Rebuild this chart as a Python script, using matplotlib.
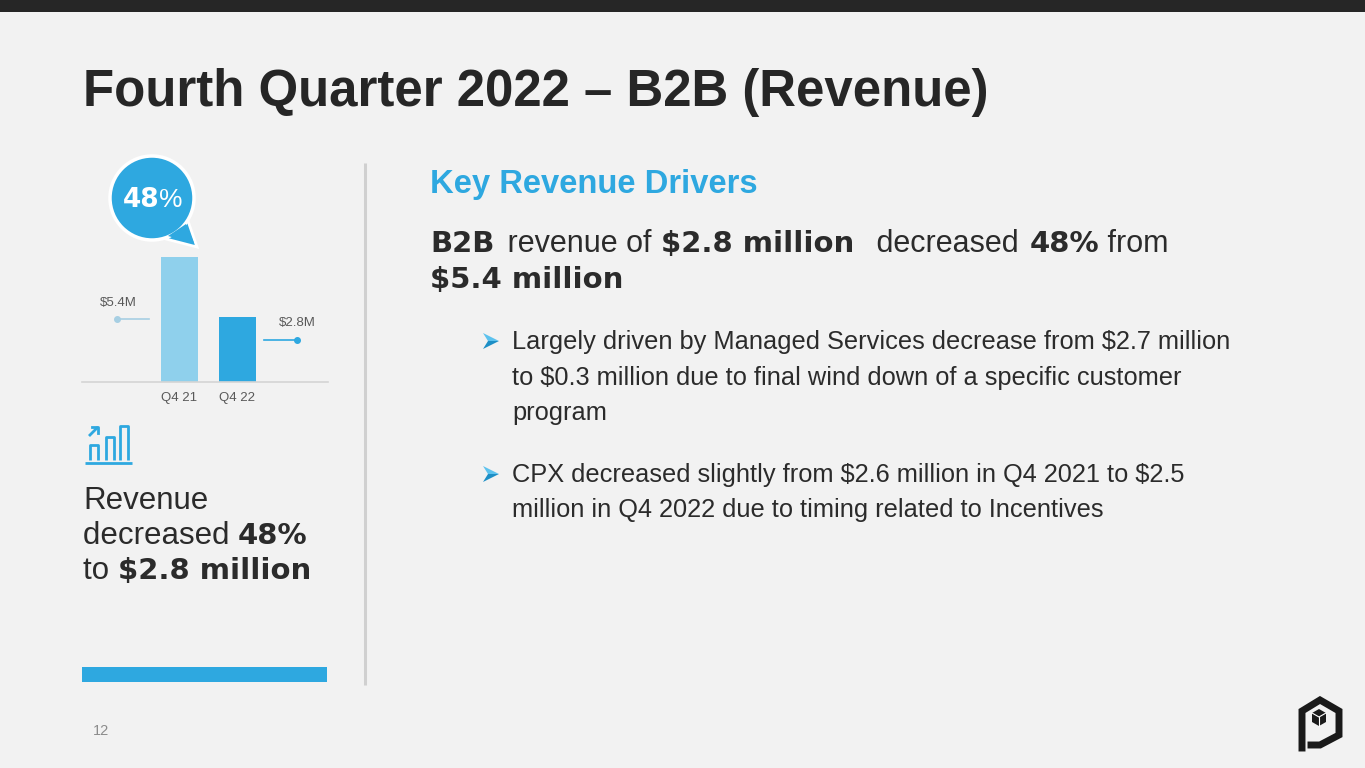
import matplotlib
matplotlib.use("Agg")
import matplotlib.pyplot as plt
from matplotlib.patches import Circle, Polygon, Rectangle

# data
quarters = ["Q4 21", "Q4 22"]
revenue = [5.4, 2.8]
value_labels = ["$5.4M", "$2.8M"]
change_pct = "48"

title = "Fourth Quarter 2022 \u2013 B2B (Revenue)"
bullets = [
    ["Largely driven by Managed Services decrease from $2.7 million",
     "to $0.3 million due to final wind down of a specific customer",
     "program"],
    ["CPX decreased slightly from $2.6 million in Q4 2021 to $2.5",
     "million in Q4 2022 due to timing related to Incentives"],
]

BLUE = "#2ea8e0"
LIGHT = "#8fd0ec"
DARK = "#2b2b2b"
BG = "#f2f2f2"
SANS = "Liberation Sans"
HEAVY = "DejaVu Sans"

fig = plt.figure(figsize=(13.65, 7.68), dpi=100, facecolor=BG)
ax = fig.add_axes([0, 0, 1, 1])
ax.set_xlim(0, 1365)
ax.set_ylim(768, 0)
ax.axis("off")
ax.set_facecolor(BG)


def txt(x, y, s, **kw):
    kw.setdefault("va", "baseline")
    kw.setdefault("family", SANS)
    return ax.text(x, y, s, parse_math=False, **kw)


def rich(x, y, parts, color=DARK):
    # place text pieces one after another on a common baseline
    # each part: (text, size, bold, family, extra gap in px before it)
    prev = None
    for s, size, bold, fam, gap in parts:
        kw = dict(fontsize=size, color=color, family=fam, parse_math=False,
                  fontweight="bold" if bold else "normal", va="baseline", ha="left")
        if prev is None:
            prev = ax.text(x, y, s, **kw)
        else:
            prev = ax.annotate(s, xy=(1, y), xycoords=(prev, ax.transData),
                               xytext=(gap * 0.72, 0), textcoords="offset points", **kw)
    return prev


# top bar
ax.add_patch(Rectangle((0, 0), 1365, 12, color="#262626", lw=0))

# title
txt(83, 106, title, fontsize=36.7, fontweight="bold", color="#262626")

# divider
ax.plot([365, 365], [163, 685], color="#d0d0d0", lw=2.2, solid_capstyle="butt")

# bar chart
bx = fig.add_axes([82 / 1365, (768 - 382) / 768, (328 - 82) / 1365, (382 - 150.5) / 768])
bx.set_facecolor("none")
bx.bar([0, 1], revenue, width=0.638, color=[LIGHT, BLUE])
bx.set_xlim(-1.68, 2.56)
bx.set_ylim(0, 10)
for s in ["top", "left", "right"]:
    bx.spines[s].set_visible(False)
bx.spines["bottom"].set_color("#d5d5d5")
bx.spines["bottom"].set_linewidth(1.2)
bx.set_yticks([])
bx.set_xticks([0, 1], quarters)
bx.tick_params(axis="x", length=0, pad=7, labelsize=9.5, labelcolor="#595959")
for lab in bx.get_xticklabels():
    lab.set_family(SANS)

# value callouts
bx.text(-1.06, 3.41, value_labels[0], ha="center", va="center", fontsize=9.5,
        color="#595959", family=SANS, parse_math=False)
bx.plot([-1.078, -0.527], [2.72, 2.72], color="#a7cfe3", lw=1.2)
bx.plot([-1.078], [2.72], "o", color="#a7cfe3", ms=4)
bx.text(2.03, 2.55, value_labels[1], ha="center", va="center", fontsize=9.5,
        color="#595959", family=SANS, parse_math=False)
bx.plot([1.457, 2.026], [1.81, 1.81], color=BLUE, lw=1.2)
bx.plot([2.026], [1.81], "o", color=BLUE, ms=4)

# bubble
ax.add_patch(Polygon([(166, 239), (188, 221), (197, 247)], closed=True,
                     fc=BLUE, ec="white", lw=2, zorder=5))
ax.add_patch(Circle((152, 198), 42, fc=BLUE, ec="white", lw=2.5, zorder=6))
ax.add_patch(Polygon([(168, 236), (186, 224), (194, 243)], closed=True,
                     fc=BLUE, ec="none", zorder=7))
ax.text(159, 207, change_pct, fontsize=19, fontweight="bold", family=HEAVY,
        color="white", ha="right", va="baseline", zorder=8)
ax.text(159, 207, "%", fontsize=19, family=SANS, color="white",
        ha="left", va="baseline", zorder=8)

# small chart icon
ic = dict(color=BLUE, lw=2, solid_capstyle="butt")
ax.plot([85, 132], [463, 463], **ic)
ax.plot([90, 90, 98, 98], [460, 445, 445, 460], **ic)
ax.plot([106, 106, 114, 114], [460, 437, 437, 460], **ic)
ax.plot([120, 120, 128, 128], [460, 426, 426, 460], **ic)
ax.plot([89, 98], [436, 427], **ic)
ax.plot([92, 98, 98], [427, 427, 433], color=BLUE, lw=2)

# left summary text
rich(83, 509, [("Revenue", 22.5, False, SANS, 0)])
rich(83, 544, [("decreased ", 22.5, False, SANS, 0), ("48%", 21, True, HEAVY, 0)])
rich(83, 579, [("to ", 22.5, False, SANS, 0), ("$2.8 million", 21, True, HEAVY, 0)])

# blue footer bar
ax.add_patch(Rectangle((82, 667), 245, 15, color=BLUE, lw=0))

# page number
txt(93, 735, "12", fontsize=10.5, color="#8c8c8c")

# right panel
txt(430, 193, "Key Revenue Drivers", fontsize=23.6, fontweight="bold", color=BLUE)
rich(430, 252, [("B2B", 21, True, HEAVY, 0), (" revenue of ", 22, False, SANS, 5),
                ("$2.8 million", 21, True, HEAVY, 1), (" decreased ", 22, False, SANS, 13),
                ("48%", 21, True, HEAVY, 3), (" from", 22, False, SANS, 0)])
rich(430, 288, [("$5.4 million", 21, True, HEAVY, 0)])

y = 349
for lines in bullets:
    ax.add_patch(Polygon([(483, y - 16), (499, y - 8), (488, y - 8)],
                         closed=True, fc="#5cc2ee", ec="none"))
    ax.add_patch(Polygon([(488, y - 8), (499, y - 8), (483, y)],
                         closed=True, fc="#1d8fc6", ec="none"))
    for ln in lines:
        txt(512, y, ln, fontsize=18.3, color=DARK)
        y += 35.5
    y += 26.5

# logo (rough)
ax.plot([1302, 1302, 1320, 1339, 1339, 1320, 1311],
        [748, 711, 700, 711, 735, 745, 745], color="#1a1a1a", lw=5,
        solid_joinstyle="miter")
ax.add_patch(Polygon([(1312, 713), (1319, 709), (1326, 713), (1326, 722),
                      (1319, 726), (1312, 722)], closed=True, fc="#1a1a1a", ec="none"))
ax.plot([1312, 1319, 1326], [713, 717, 713], color="white", lw=0.8)
ax.plot([1319, 1319], [717, 726], color="white", lw=0.8)

fig.savefig("out.png", dpi=100, facecolor=BG)
